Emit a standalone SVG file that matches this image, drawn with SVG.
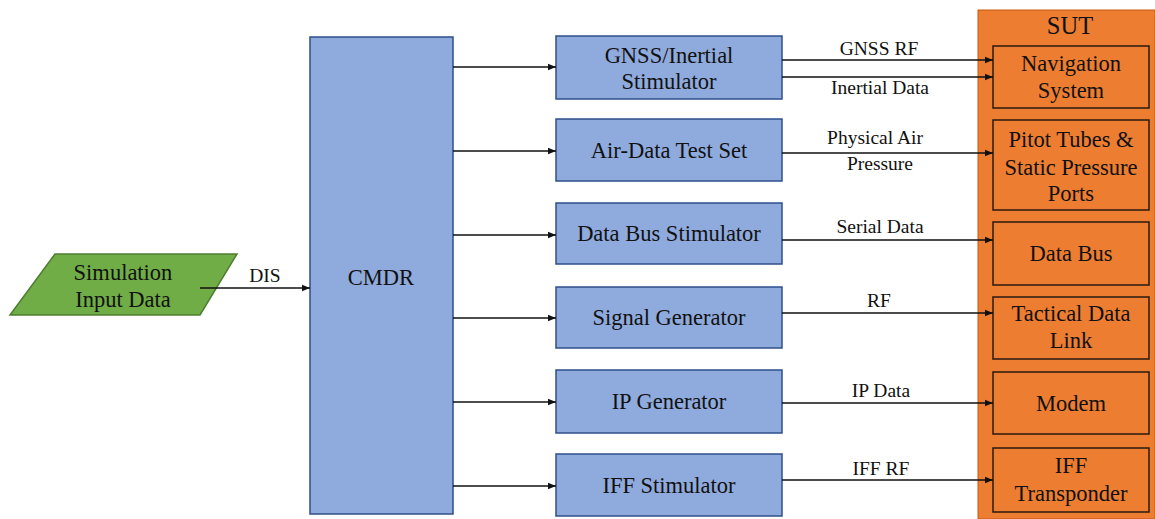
<svg xmlns="http://www.w3.org/2000/svg" width="1155" height="519" viewBox="0 0 1155 519" font-family="'Liberation Serif', 'DejaVu Serif', serif">
  <style>
    text { font-family: 'Liberation Serif', 'DejaVu Serif', serif; fill: #111; text-anchor: middle; }
    .box { fill: #8faadc; stroke: #2f4f8a; stroke-width: 1.5; }
    .sut { fill: #ed7d31; stroke: #c55a11; stroke-width: 1; }
    .sub { fill: #ed7d31; stroke: #2a1a0f; stroke-width: 1.5; }
    .in { fill: #70ad47; stroke: #4e7d30; stroke-width: 1.5; }
    .t18 { font-size: 22.5px; }
    .t16 { font-size: 19.5px; }
    .t20 { font-size: 24.5px; }
    .conn line { stroke: #111; stroke-width: 1.3; marker-end: url(#arr); }
  </style>
  <defs>
    <marker id="arr" viewBox="0 0 10 10" refX="10" refY="5" markerWidth="8" markerHeight="8" markerUnits="userSpaceOnUse" orient="auto">
      <path d="M0,1 L10,5 L0,9 z" fill="#111"/>
    </marker>
  </defs>

  <!-- system under test container -->
  <g id="sut">
    <rect class="sut" x="978" y="10" width="177" height="509"/>
    <text class="t20" x="1070" y="34">SUT</text>
  </g>

  <g id="input">
    <polygon class="in" points="55,254 237,254 200,315 10,315"/>
    <text class="t18" x="123" y="280">Simulation</text>
    <text class="t18" x="123" y="307">Input Data</text>
  </g>

  <g id="cmdr">
    <rect class="box" x="310" y="37" width="143" height="477"/>
    <text class="t18" x="381" y="285">CMDR</text>
  </g>

  <g id="gnss">
    <rect class="box" x="556" y="36" width="226" height="63"/>
    <text class="t18" x="669" y="63">GNSS/Inertial</text>
    <text class="t18" x="669" y="89">Stimulator</text>
  </g>
  <g id="airdata">
    <rect class="box" x="556" y="119" width="226" height="62"/>
    <text class="t18" x="669" y="158">Air-Data Test Set</text>
  </g>
  <g id="databusstim">
    <rect class="box" x="556" y="203" width="226" height="61"/>
    <text class="t18" x="669" y="241">Data Bus Stimulator</text>
  </g>
  <g id="siggen">
    <rect class="box" x="556" y="287" width="226" height="61"/>
    <text class="t18" x="669" y="325">Signal Generator</text>
  </g>
  <g id="ipgen">
    <rect class="box" x="556" y="370" width="226" height="63"/>
    <text class="t18" x="669" y="409">IP Generator</text>
  </g>
  <g id="iffstim">
    <rect class="box" x="556" y="454" width="226" height="62"/>
    <text class="t18" x="669" y="493">IFF Stimulator</text>
  </g>

  <g id="nav">
    <rect class="sub" x="993" y="46" width="156" height="62"/>
    <text class="t18" x="1071" y="71">Navigation</text>
    <text class="t18" x="1071" y="98">System</text>
  </g>
  <g id="pitot">
    <rect class="sub" x="993" y="120" width="156" height="90"/>
    <text class="t18" x="1071" y="147">Pitot Tubes &amp;</text>
    <text class="t18" x="1071" y="175">Static Pressure</text>
    <text class="t18" x="1071" y="201">Ports</text>
  </g>
  <g id="databus">
    <rect class="sub" x="993" y="222" width="156" height="63"/>
    <text class="t18" x="1071" y="261">Data Bus</text>
  </g>
  <g id="tdl">
    <rect class="sub" x="993" y="297" width="156" height="62"/>
    <text class="t18" x="1071" y="321">Tactical Data</text>
    <text class="t18" x="1071" y="348">Link</text>
  </g>
  <g id="modem">
    <rect class="sub" x="993" y="372" width="156" height="62"/>
    <text class="t18" x="1071" y="411">Modem</text>
  </g>
  <g id="iffxpdr">
    <rect class="sub" x="993" y="448" width="156" height="64"/>
    <text class="t18" x="1071" y="473">IFF</text>
    <text class="t18" x="1071" y="501">Transponder</text>
  </g>

  <g id="connectors" class="conn">
    <line x1="200" y1="288" x2="310" y2="288"/>
    <line x1="453" y1="67" x2="556" y2="67"/>
    <line x1="453" y1="151" x2="556" y2="151"/>
    <line x1="453" y1="235" x2="556" y2="235"/>
    <line x1="453" y1="318" x2="556" y2="318"/>
    <line x1="453" y1="402" x2="556" y2="402"/>
    <line x1="453" y1="486" x2="556" y2="486"/>
    <line x1="782" y1="60" x2="993" y2="60"/>
    <line x1="782" y1="77" x2="993" y2="77"/>
    <line x1="782" y1="153" x2="993" y2="153"/>
    <line x1="782" y1="240" x2="993" y2="240"/>
    <line x1="782" y1="313" x2="993" y2="313"/>
    <line x1="782" y1="403" x2="993" y2="403"/>
    <line x1="782" y1="480" x2="993" y2="480"/>
  </g>

  <g id="labels">
    <text class="t16" x="265" y="282">DIS</text>
    <text class="t16" x="879" y="55">GNSS RF</text>
    <text class="t16" x="880" y="94">Inertial Data</text>
    <text class="t16" x="875" y="144">Physical Air</text>
    <text class="t16" x="880" y="170">Pressure</text>
    <text class="t16" x="880" y="233">Serial Data</text>
    <text class="t16" x="879" y="307">RF</text>
    <text class="t16" x="881" y="397">IP Data</text>
    <text class="t16" x="881" y="475">IFF RF</text>
  </g>
</svg>
